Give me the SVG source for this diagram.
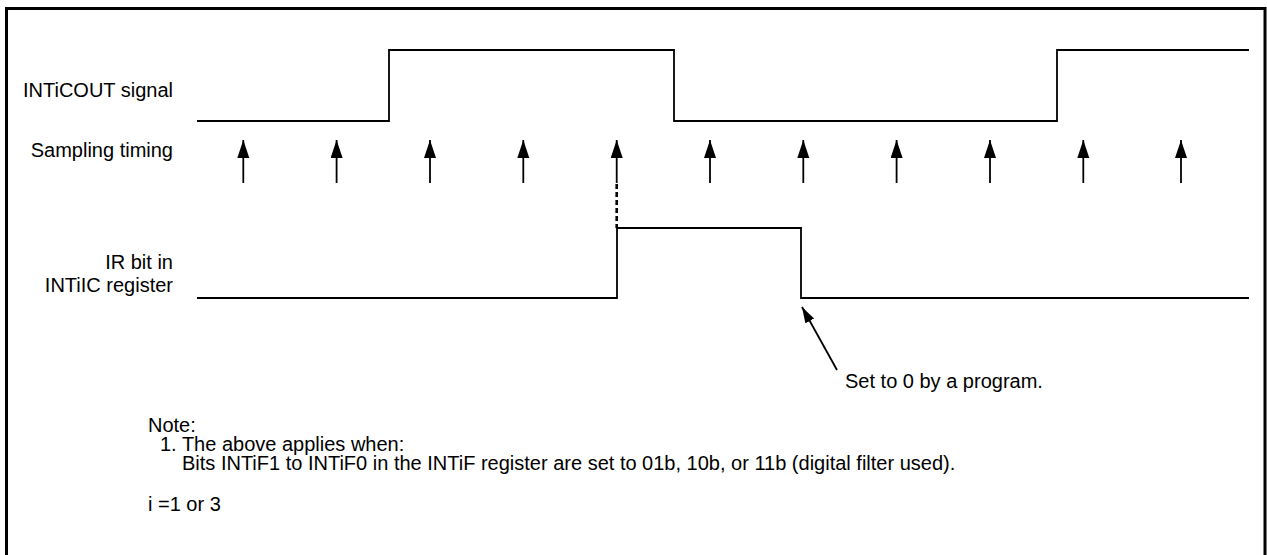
<svg xmlns="http://www.w3.org/2000/svg" width="1267" height="555" viewBox="0 0 1267 555">
<style>
.t{font-family:"Liberation Sans",Arial,sans-serif;font-size:20px;fill:#000}
.r{text-anchor:end}
.sig{fill:none;stroke:#000;stroke-width:1.8}
.arr{fill:none;stroke:#000;stroke-width:1.8}
</style>
<defs>
<marker id="ah" markerUnits="userSpaceOnUse" markerWidth="20" markerHeight="14" refX="18" refY="6" orient="auto">
<path d="M0,0 L18,6 L0,12 z" fill="#000"/>
</marker>
<marker id="ah2" markerUnits="userSpaceOnUse" markerWidth="18" markerHeight="12" refX="16" refY="5" orient="auto">
<path d="M0,0 L16,5 L0,10 z" fill="#000"/>
</marker>
</defs>
<rect x="0" y="0" width="1267" height="555" fill="#fff"/>
<rect id="frame" x="6.5" y="8.5" width="1258.5" height="560" fill="none" stroke="#000" stroke-width="3"/>

<g id="label-inticout"><text class="t r" x="173" y="97">INTiCOUT signal</text></g>
<g id="label-sampling"><text class="t r" x="173" y="157">Sampling timing</text></g>
<g id="label-ir"><text class="t r" x="173" y="269">IR bit in</text><text class="t r" x="173" y="292">INTiIC register</text></g>

<g id="signal-inticout"><path class="sig" d="M197,121 H389 V50 H674 V121 H1057 V50 H1249"/></g>
<g id="signal-ir"><path class="sig" d="M197,298 H617 V228 H801 V298 H1249"/></g>

<g id="connectors">
<line class="arr" x1="243.3" y1="183" x2="243.3" y2="140" marker-end="url(#ah)"/>
<line class="arr" x1="336.6" y1="183" x2="336.6" y2="140" marker-end="url(#ah)"/>
<line class="arr" x1="430" y1="183" x2="430" y2="140" marker-end="url(#ah)"/>
<line class="arr" x1="523.3" y1="183" x2="523.3" y2="140" marker-end="url(#ah)"/>
<line class="arr" x1="616.7" y1="183" x2="616.7" y2="140" marker-end="url(#ah)"/>
<line class="arr" x1="710" y1="183" x2="710" y2="140" marker-end="url(#ah)"/>
<line class="arr" x1="803.3" y1="183" x2="803.3" y2="140" marker-end="url(#ah)"/>
<line class="arr" x1="896.6" y1="183" x2="896.6" y2="140" marker-end="url(#ah)"/>
<line class="arr" x1="990" y1="183" x2="990" y2="140" marker-end="url(#ah)"/>
<line class="arr" x1="1083.3" y1="183" x2="1083.3" y2="140" marker-end="url(#ah)"/>
<line class="arr" x1="1181" y1="183" x2="1181" y2="140" marker-end="url(#ah)"/>
<line x1="616.7" y1="184" x2="616.7" y2="228" stroke="#000" stroke-width="2.6" stroke-dasharray="5,3"/>
<line class="arr" x1="837" y1="370" x2="802" y2="307" marker-end="url(#ah2)"/>
</g>

<g id="label-set0"><text class="t" x="845" y="388">Set to 0 by a program.</text></g>
<g id="note">
<text class="t" x="148" y="432">Note:</text>
<text class="t" x="160" y="451">1. The above applies when:</text>
<text class="t" x="182" y="470">Bits INTiF1 to INTiF0 in the INTiF register are set to 01b, 10b, or 11b (digital filter used).</text>
<text class="t" x="148" y="511">i =1 or 3</text>
</g>
</svg>
